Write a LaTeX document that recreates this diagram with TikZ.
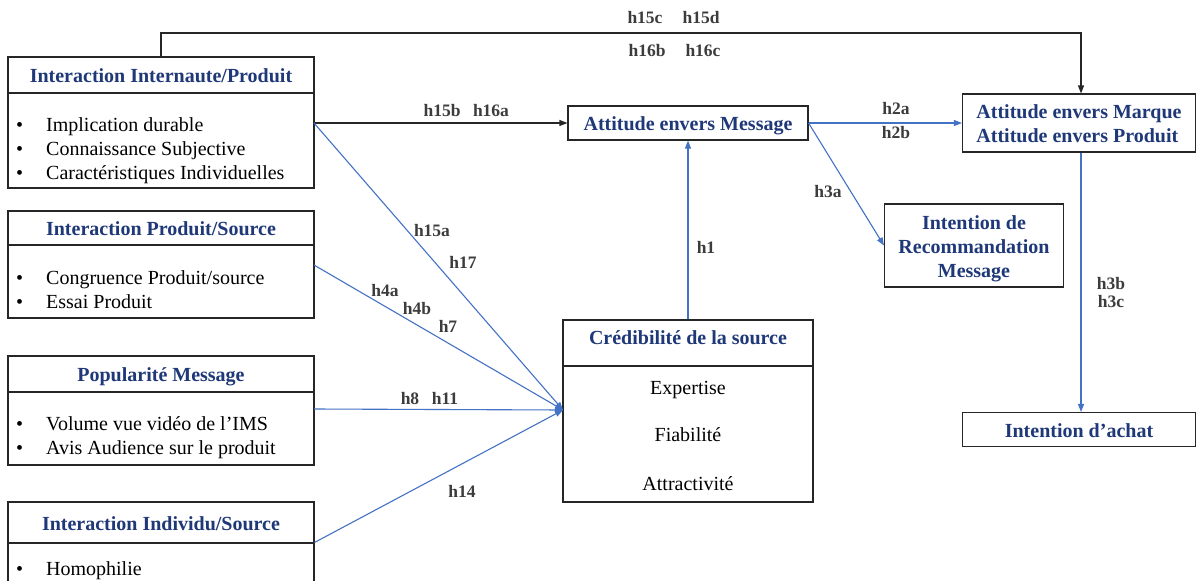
\documentclass[tikz,border=0pt]{standalone}
\usepackage{fontspec}
\setmainfont{Liberation Serif}
\usetikzlibrary{arrows.meta}
\definecolor{navy}{RGB}{31,56,120}
\definecolor{lnblue}{RGB}{68,114,196}
\definecolor{lbl}{RGB}{60,60,60}
\newcommand{\blist}[1]{\begin{tabular}{@{}p{30pt}@{}l@{}}#1\end{tabular}}
\newcommand{\lowr}[1]{\raisebox{-3pt}[\height][\depth]{#1}}
\begin{document}
\begin{tikzpicture}[x=1pt,y=-1pt,
  box/.style={draw=black!85,line width=1.1pt,inner sep=0pt},
  ttl/.style={font=\fontsize{20}{24}\selectfont\bfseries,text=navy,text height=17pt,text depth=2pt},
  ttlm/.style={font=\fontsize{20}{24}\selectfont\bfseries,text=navy},
  txt/.style={font=\fontsize{20}{24}\selectfont,text=black,inner sep=0pt,yshift=-3pt},
  one/.style={text height=14pt,text depth=5pt},
  lab/.style={font=\fontsize{17.5}{21}\selectfont\bfseries,text=lbl,inner sep=0pt,text height=12pt,text depth=4pt,yshift=-2pt},
  tip/.style={-{Triangle[length=8pt,width=6pt]}},
  bl/.style={draw=lnblue,line width=1.1pt,tip},
  bk/.style={draw=black!85,line width=1.1pt}]
\fill[white] (0,0) rectangle (1197,581);
\clip (0,0) rectangle (1197,581);

% left boxes
\node[box,ttl,minimum width=306,minimum height=36] (b1t) at (161,75) {Interaction Internaute/Produit};
\node[box,minimum width=306,minimum height=95] (b1b) at (161,140.5) {};
\node[txt,anchor=west] (b1l) at (16,148) {\blist{• & Implication durable\\ • & Connaissance Subjective\\ • & Caractéristiques Individuelles}};

\node[box,ttl,minimum width=306,minimum height=34] (b2t) at (161,228) {Interaction Produit/Source};
\node[box,minimum width=306,minimum height=73] (b2b) at (161,281.5) {};
\node[txt,anchor=west] (b2l) at (16,288.5) {\blist{• & Congruence Produit/source\\ • & Essai Produit}};

\node[box,ttl,minimum width=306,minimum height=36] (b3t) at (161,374) {Popularité Message};
\node[box,minimum width=306,minimum height=73] (b3b) at (161,428.5) {};
\node[txt,anchor=west] (b3l) at (16,435) {\blist{• & Volume vue vidéo de l’IMS\\ • & Avis Audience sur le produit}};

\node[box,ttl,minimum width=306,minimum height=41] (b4t) at (161,522.5) {Interaction Individu/Source};
\node[box,minimum width=306,minimum height=100] (b4b) at (161,593) {};
\node[txt,anchor=west] (b4l) at (16,568) {\blist{• & Homophilie}};

% centre and right boxes
\node[box,ttl,minimum width=240,minimum height=34] (am) at (688,123) {Attitude envers Message};
\node[box,ttlm,minimum width=233,minimum height=58] (amp) at (1079,123) {\lowr{\begin{tabular}{@{}l@{}}Attitude envers Marque\\Attitude envers Produit\end{tabular}}};
\node[box,ttlm,minimum width=179,minimum height=83] (irm) at (974,245.5) {\lowr{\begin{tabular}{@{}c@{}}Intention de\\Recommandation\\Message\end{tabular}}};
\node[box,ttl,minimum width=233,minimum height=34] (ia) at (1079,429.5) {Intention d’achat};

\node[box,minimum width=250,minimum height=46] (credt) at (688,343) {};
\node[ttl,inner sep=0pt] (credtt) at (688,337) {Crédibilité de la source};
\node[box,minimum width=250,minimum height=136] (credb) at (688,434) {};
\node[txt,one] (e1) at (688,387) {Expertise};
\node[txt,one] (e2) at (688,434) {Fiabilité};
\node[txt,one] (e3) at (688,483) {Attractivité};

% connectors
\coordinate (tr) at (1081,33);
\coordinate (s1) at (314,123);
\coordinate (s2) at (314,265);
\coordinate (s3) at (314,409);
\coordinate (conv) at (563,410);
\draw[bk,tip] (b1t.north) |- (tr) -- (tr |- amp.north);
\draw[bk,tip] (s1) -- (am.west);
\draw[bl] (am.east) -- (amp.west);
\draw[bl] (am.east) -- (irm.west);
\draw[bl] (credt.north) -- (am.south);
\draw[bl] (tr |- amp.south) -- (tr |- ia.north);
\draw[bl] (s1) -- (conv);
\draw[bl] (s2) -- (conv);
\draw[bl] (s3) -- (conv);
\draw[bl] (b4b.north east) -- (conv);

% labels
\node[lab] (l15c) at (645,17) {h15c};
\node[lab] (l15d) at (701,17) {h15d};
\node[lab] (l16b) at (647,50) {h16b};
\node[lab] (l16c) at (703,50) {h16c};
\node[lab] (l15b) at (442,110) {h15b};
\node[lab] (l16a) at (491,110) {h16a};
\node[lab] (l2a) at (896,108) {h2a};
\node[lab] (l2b) at (896,132) {h2b};
\node[lab] (l3a) at (828,191) {h3a};
\node[lab] (l1) at (706,247) {h1};
\node[lab] (l3b) at (1111,283) {h3b};
\node[lab] (l3c) at (1111,301) {h3c};
\node[lab] (l15a) at (432,230) {h15a};
\node[lab] (l17) at (463,262) {h17};
\node[lab] (l4a) at (385,290) {h4a};
\node[lab] (l4b) at (417,308) {h4b};
\node[lab] (l7) at (448,326) {h7};
\node[lab] (l8) at (410,398) {h8};
\node[lab] (l11) at (445,398) {h11};
\node[lab] (l14) at (462,491) {h14};
\end{tikzpicture}
\end{document}
